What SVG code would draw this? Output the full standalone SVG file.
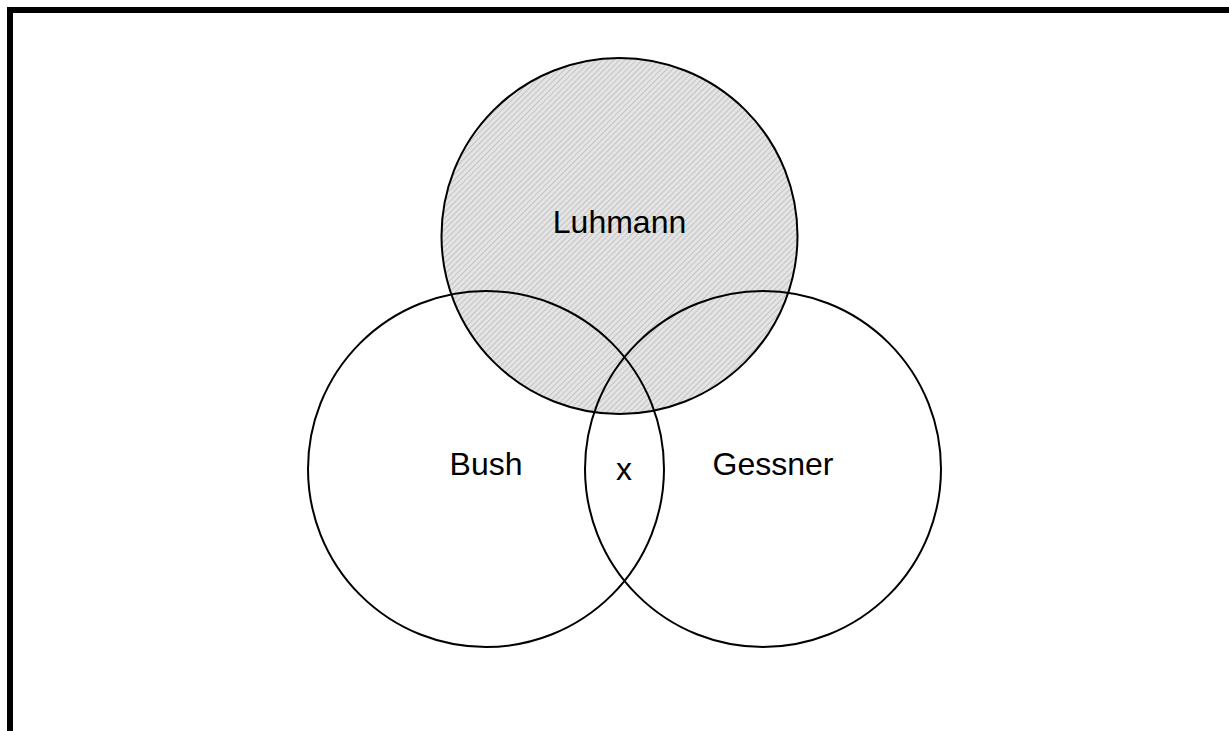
<svg xmlns="http://www.w3.org/2000/svg" width="1229" height="731" viewBox="0 0 1229 731">
<style>
.c{fill:none;stroke:#000;stroke-width:2}
.t{font-family:"Liberation Sans",Arial,sans-serif;font-size:32px;fill:#000;text-anchor:middle}
</style>
<defs>
<pattern id="hatch" width="4" height="4" patternUnits="userSpaceOnUse" patternTransform="rotate(45)">
<rect width="4" height="4" fill="#e4e4e4"/>
<line x1="0" y1="0" x2="0" y2="4" stroke="#b8b8b8" stroke-width="1.5"/>
</pattern>
</defs>
<rect width="1229" height="731" fill="#fff"/>
<path d="M10,731 V10 H1229" fill="none" stroke="#000" stroke-width="6"/>
<g id="luhmann">
<circle cx="619.5" cy="236" r="178" fill="url(#hatch)" stroke="#000" stroke-width="2"/>
<text class="t" x="619.5" y="233">Luhmann</text>
</g>
<g id="bush">
<circle class="c" cx="486" cy="469" r="178"/>
<text class="t" x="486" y="475">Bush</text>
</g>
<g id="gessner">
<circle class="c" cx="763" cy="469" r="178"/>
<text class="t" x="773" y="475">Gessner</text>
</g>
<g id="intersection">
<text class="t" x="624" y="480">x</text>
</g>
<g id="connectors"/>
</svg>
